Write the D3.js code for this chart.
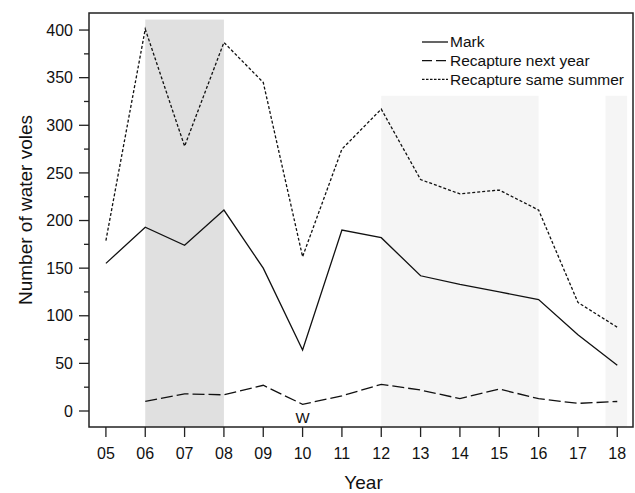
<!DOCTYPE html>
<html lang="en">
<head>
  <meta charset="UTF-8">
  <title>Water voles</title>
  <style>
    body { margin: 0; background: #fff; }
    svg { display: block; font-family: Arial, "Liberation Sans", sans-serif; }
  </style>
</head>
<body>
<div id="chart"></div>
<script src="https://d3js.org/d3.v7.min.js"></script>
<script>

const years = [5, 6, 7, 8, 9, 10, 11, 12, 13, 14, 15, 16, 17, 18];
const yearLabels = ["05","06","07","08","09","10","11","12","13","14","15","16","17","18"];
const mark = [155, 193, 174, 211, 150, 64, 190, 182, 142, 133, 125, 117, 80, 48];
const recapNext = [null, 10, 18, 17, 27, 7, 16, 28, 22, 13, 23, 13, 8, 10];
const recapSame = [179, 401, 278, 387, 345, 162, 275, 317, 243, 228, 232, 211, 114, 88];
const yTicks = [0, 50, 100, 150, 200, 250, 300, 350, 400];
const yMinorTicks = [25, 75, 125, 175, 225, 275, 325, 375];
// shaded periods: [from year, to year, top value, fill]
const shades = [
  [6, 8, 411, "#e0e0e0"],
  [12, 16, 331, "#f5f5f5"],
  [17.7, 18.25, 331, "#f5f5f5"]
];

const width = 635, height = 493;
const margin = {left: 89, top: 13, right: 2, bottom: 66};

const svg = d3.select("#chart").append("svg")
  .attr("width", width)
  .attr("height", height);

const x = d3.scaleLinear()
  .domain([4.57, 18.4])
  .range([margin.left, width - margin.right]);

const y = d3.scaleLinear()
  .domain([-16.8, 417.9])
  .range([height - margin.bottom, margin.top]);

// shading
svg.selectAll("rect.shade")
  .data(shades)
  .enter().append("rect")
  .attr("class", "shade")
  .attr("x", d => x(d[0]))
  .attr("width", d => x(d[1]) - x(d[0]))
  .attr("y", d => y(d[2]))
  .attr("height", d => y.range()[0] - y(d[2]))
  .attr("fill", d => d[3]);

const line = d3.line()
  .defined(d => d[1] != null)
  .x(d => x(d[0]))
  .y(d => y(d[1]));

const series = [
  {name: "Mark", values: mark, dash: null},
  {name: "Recapture next year", values: recapNext, dash: "12,4"},
  {name: "Recapture same summer", values: recapSame, dash: "3,2"}
];

series.forEach(s => {
  svg.append("path")
    .datum(years.map((yr, i) => [yr, s.values[i]]))
    .attr("fill", "none")
    .attr("stroke", "#111")
    .attr("stroke-width", 1.3)
    .attr("stroke-dasharray", s.dash)
    .attr("d", line);
});

// box
svg.append("rect")
  .attr("x", margin.left)
  .attr("y", margin.top)
  .attr("width", width - margin.right - margin.left)
  .attr("height", height - margin.bottom - margin.top)
  .attr("fill", "none")
  .attr("stroke", "#222")
  .attr("stroke-width", 1.5);

// y axis
const yAxis = svg.append("g").attr("transform", `translate(${margin.left},0)`);
yAxis.selectAll("line.major")
  .data(yTicks).enter().append("line")
  .attr("x1", -10).attr("x2", 0)
  .attr("y1", d => y(d)).attr("y2", d => y(d))
  .attr("stroke", "#222").attr("stroke-width", 1.3);
yAxis.selectAll("line.minor")
  .data(yMinorTicks).enter().append("line")
  .attr("x1", -5).attr("x2", 0)
  .attr("y1", d => y(d)).attr("y2", d => y(d))
  .attr("stroke", "#222").attr("stroke-width", 1.3);
yAxis.selectAll("text")
  .data(yTicks).enter().append("text")
  .attr("x", -16)
  .attr("y", d => y(d))
  .attr("dy", "0.35em")
  .attr("text-anchor", "end")
  .attr("font-size", 16)
  .attr("fill", "#111")
  .text(d => d);

// x axis
const xAxis = svg.append("g").attr("transform", `translate(0,${height - margin.bottom})`);
xAxis.selectAll("line")
  .data(years).enter().append("line")
  .attr("x1", d => x(d)).attr("x2", d => x(d))
  .attr("y1", 0).attr("y2", 10)
  .attr("stroke", "#222").attr("stroke-width", 1.3);
xAxis.selectAll("text")
  .data(years).enter().append("text")
  .attr("x", d => x(d))
  .attr("y", 32)
  .attr("text-anchor", "middle")
  .attr("font-size", 16)
  .attr("fill", "#111")
  .text((d, i) => yearLabels[i]);

// axis titles
svg.append("text")
  .attr("x", x(11.55))
  .attr("y", 489)
  .attr("text-anchor", "middle")
  .attr("font-size", 19)
  .attr("fill", "#111")
  .text("Year");

svg.append("text")
  .attr("transform", "translate(32,210) rotate(-90)")
  .attr("text-anchor", "middle")
  .attr("font-size", 19)
  .attr("fill", "#111")
  .text("Number of water voles");

// W annotation
svg.append("text")
  .attr("x", x(10))
  .attr("y", y(-13))
  .attr("text-anchor", "middle")
  .attr("font-size", 15)
  .attr("fill", "#111")
  .text("W");

// legend
const legend = svg.append("g").attr("transform", "translate(422,42)");
series.forEach((s, i) => {
  const g = legend.append("g").attr("transform", `translate(0,${i * 18.7})`);
  g.append("line")
    .attr("x1", 0).attr("x2", 26)
    .attr("stroke", "#111")
    .attr("stroke-width", 1.3)
    .attr("stroke-dasharray", i === 1 ? "10,4" : (i === 2 ? "2.5,1.5" : null));
  g.append("text")
    .attr("x", 28)
    .attr("dy", "0.35em")
    .attr("font-size", 15.5)
    .attr("fill", "#111")
    .text(s.name);
});

</script>
</body>
</html>
